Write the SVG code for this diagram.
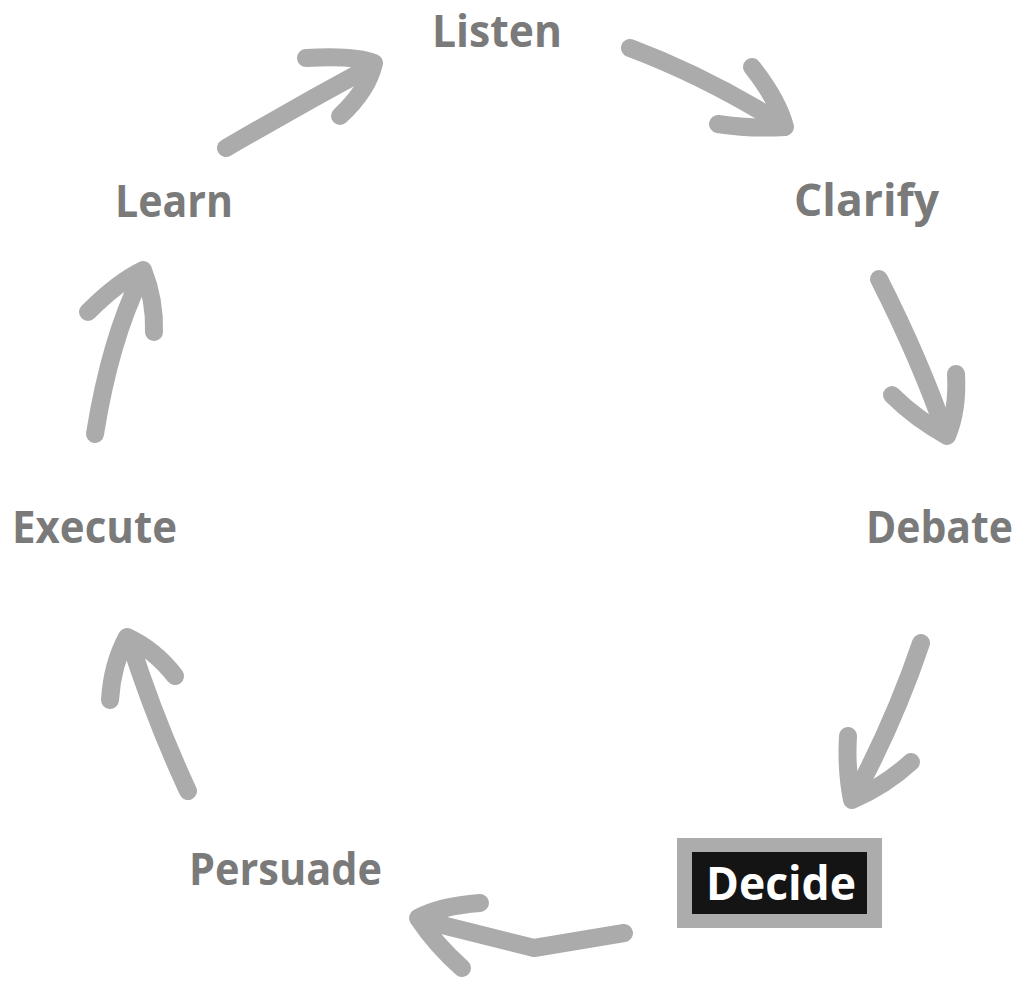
<svg xmlns="http://www.w3.org/2000/svg" width="1024" height="994" viewBox="0 0 1024 994">
<style>
.lbl{font-family:"Open Sans","Noto Sans","Liberation Sans",sans-serif;font-weight:bold;font-size:44px;fill:#7a7a7a}
.arr{fill:none;stroke:#ababab;stroke-width:18;stroke-linecap:round;stroke-linejoin:round}
</style>
<rect width="1024" height="994" fill="#ffffff"/>
<g id="connectors">
<g id="e-learn-listen"><path class="arr" d="M226,148 Q300,105 372,66"/><path class="arr" d="M306,58 Q355,55 374,63 Q368,90 340,116"/></g>
<g id="e-listen-clarify"><path class="arr" d="M630,48 Q705,76 782,124"/><path class="arr" d="M752,67 Q778,100 785,127 Q750,129 718,124"/></g>
<g id="e-clarify-debate"><path class="arr" d="M879,279 Q920,360 945,432"/><path class="arr" d="M956,374 Q958,410 947,436 Q915,418 892,395"/></g>
<g id="e-debate-decide"><path class="arr" d="M921,643 Q895,720 855,795"/><path class="arr" d="M848,736 Q846,770 852,800 Q885,786 911,762"/></g>
<g id="e-decide-persuade"><path class="arr" d="M624,933 L534,948 L422,920"/><path class="arr" d="M480,903 Q440,906 418,918 Q436,945 462,968"/></g>
<g id="e-persuade-execute"><path class="arr" d="M188,791 Q155,720 130,642"/><path class="arr" d="M175,676 Q155,650 127,637 Q112,665 110,700"/></g>
<g id="e-execute-learn"><path class="arr" d="M95,434 Q110,340 141,277"/><path class="arr" d="M88,312 Q118,282 143,270 Q155,300 154,332"/></g>
</g>
<g id="n-listen"><text class="lbl" x="432" y="47" textLength="130" lengthAdjust="spacingAndGlyphs">Listen</text></g>
<g id="n-clarify"><text class="lbl" x="794" y="216" textLength="145" lengthAdjust="spacingAndGlyphs">Clarify</text></g>
<g id="n-debate"><text class="lbl" x="866" y="543" textLength="147" lengthAdjust="spacingAndGlyphs">Debate</text></g>
<g id="n-decide">
<rect x="677" y="838" width="205" height="90" fill="#acacac"/>
<rect x="692" y="852" width="175" height="62" fill="#141414"/>
<text class="lbl" x="706" y="900" textLength="150" lengthAdjust="spacingAndGlyphs" style="fill:#ffffff;font-size:46px">Decide</text>
</g>
<g id="n-persuade"><text class="lbl" x="189" y="885" textLength="193" lengthAdjust="spacingAndGlyphs">Persuade</text></g>
<g id="n-execute"><text class="lbl" x="12" y="543" textLength="165" lengthAdjust="spacingAndGlyphs">Execute</text></g>
<g id="n-learn"><text class="lbl" x="115" y="217" textLength="118" lengthAdjust="spacingAndGlyphs">Learn</text></g>
</svg>
